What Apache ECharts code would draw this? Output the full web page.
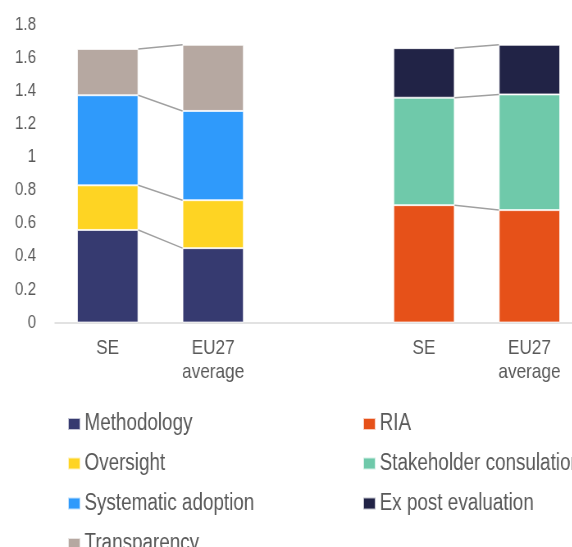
<!DOCTYPE html>
<html>
<head>
<meta charset="utf-8">
<script src="https://cdn.jsdelivr.net/npm/echarts@6/dist/echarts.min.js"></script>
<style>
  html, body { margin: 0; padding: 0; background: #fff; overflow: hidden; }
  /* the source picture is squeezed horizontally; draw wider and scale it back */
  #chart { width: 698px; height: 547px; transform: scaleX(0.82); transform-origin: 0 0; }
</style>
</head>
<body>
<div id="chart"></div>
<script>
const categories = ['SE', 'EU27\naverage', '', 'SE', 'EU27\naverage']
const yTicks = [0, 0.2, 0.4, 0.6, 0.8, 1, 1.2, 1.4, 1.6, 1.8]

// left pair (SE, EU27)
const methodology = [0.56, 0.45]
const oversight = [0.27, 0.29]
const systematicAdoption = [0.545, 0.54]
const transparency = [0.28, 0.40]

// right pair (SE, EU27)
const ria = [0.71, 0.68]
const stakeholder = [0.65, 0.70]
const exPost = [0.30, 0.30]

const leftNames = ['Methodology', 'Oversight', 'Systematic adoption', 'Transparency']
const rightNames = ['RIA', 'Stakeholder consulation', 'Ex post evaluation']
const leftColors = ['#363a70', '#fed423', '#2f9afb', '#b6a8a1']
const rightColors = ['#e65119', '#6fc9aa', '#212346']

const FONT = "'Liberation Sans', Arial, sans-serif"
const BAR_RATIO = 0.58

const leftData = [methodology, oversight, systematicAdoption, transparency]
const rightData = [ria, stakeholder, exPost]

const barSeries = []
leftData.forEach((vals, i) => {
  barSeries.push({
    name: leftNames[i],
    type: 'bar',
    stack: 'total',
    barWidth: (BAR_RATIO * 100) + '%',
    itemStyle: { color: leftColors[i], borderColor: 'rgba(255,255,255,0.7)', borderWidth: 1 },
    data: [vals[0], vals[1], null, null, null]
  })
})
rightData.forEach((vals, i) => {
  barSeries.push({
    name: rightNames[i],
    type: 'bar',
    stack: 'total',
    barWidth: (BAR_RATIO * 100) + '%',
    itemStyle: { color: rightColors[i], borderColor: 'rgba(255,255,255,0.7)', borderWidth: 1 },
    data: [null, null, null, vals[0], vals[1]]
  })
})

// connector lines between stack boundaries: [fromCat, fromVal, toCat, toVal]
const connectors = []
const addConnectors = (groups, fromCat, toCat) => {
  let a = 0, b = 0
  groups.forEach(vals => {
    a += vals[0]
    b += vals[1]
    connectors.push([fromCat, a, toCat, b])
  })
}
addConnectors(leftData, 0, 1)
addConnectors(rightData, 3, 4)

// one legend per entry so rows sit exactly where the source puts them
const rowCenters = [419, 458.5, 498.5, 539]
const makeLegend = (name, left, row) => ({
  data: [name],
  left: left,
  top: rowCenters[row] - 12,
  itemWidth: 15,
  itemHeight: 12,
  icon: 'rect',
  selectedMode: false,
  textStyle: { fontFamily: FONT, fontSize: 23, lineHeight: 24, color: '#595959' }
})
const legends = [
  ...leftNames.map((n, i) => makeLegend(n, 77, i)),
  ...rightNames.map((n, i) => makeLegend(n, 437, i))
]

const chart = echarts.init(document.getElementById('chart'))

chart.setOption({
  animation: false,
  grid: { left: 67, top: 25, width: 643, height: 297.5, outerBoundsMode: 'none' },
  xAxis: {
    type: 'category',
    data: categories,
    axisTick: { show: false },
    axisLine: { lineStyle: { color: '#d9d9d9', width: 1.5 } },
    axisLabel: {
      fontFamily: FONT,
      fontSize: 21,
      lineHeight: 24,
      color: '#595959',
      margin: 14,
      interval: 0
    }
  },
  yAxis: {
    type: 'value',
    min: yTicks[0],
    max: yTicks[yTicks.length - 1],
    interval: 0.2,
    splitLine: { show: false },
    axisLine: { show: false },
    axisTick: { show: false },
    axisLabel: {
      fontFamily: FONT,
      fontSize: 18.5,
      color: '#595959',
      margin: 23,
      formatter: v => String(+v.toFixed(1))
    }
  },
  legend: legends,
  series: [
    ...barSeries,
    {
      type: 'custom',
      silent: true,
      z: 5,
      renderItem: (params, api) => {
        const p1 = api.coord([api.value(0), api.value(1)])
        const p2 = api.coord([api.value(2), api.value(3)])
        const half = api.size([1, 0])[0] * BAR_RATIO / 2
        return {
          type: 'line',
          shape: { x1: p1[0] + half, y1: p1[1], x2: p2[0] - half, y2: p2[1] },
          style: { stroke: '#a0a0a0', lineWidth: 1.5 }
        }
      },
      encode: { x: [0, 2], y: [1, 3] },
      data: connectors
    }
  ]
})
</script>
</body>
</html>
